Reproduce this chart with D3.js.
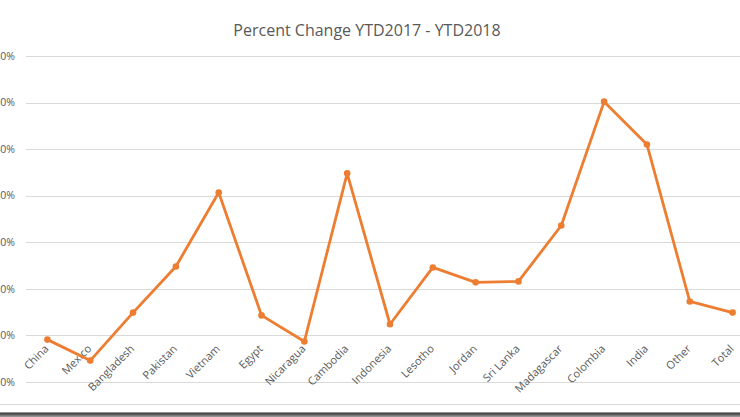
<!DOCTYPE html>
<html>
<head>
<meta charset="utf-8">
<script src="https://cdn.jsdelivr.net/npm/d3@7"></script>
<style>
  html, body { margin: 0; padding: 0; background: #fff; overflow: hidden; }
  svg { display: block; }
</style>
</head>
<body>
<script>
const categories = ["China","Mexico","Bangladesh","Pakistan","Vietnam","Egypt","Nicaragua","Cambodia","Indonesia","Lesotho","Jordan","Sri Lanka","Madagascar","Colombia","India","Other","Total"];
const pctChange = [-0.9, -5.4, 4.9, 14.8, 30.7, 4.3, -1.3, 34.8, 2.4, 14.6, 11.4, 11.6, 23.6, 50.2, 41.0, 7.3, 4.9];
const yTicks = [-10, 0, 10, 20, 30, 40, 50, 60];
const title = "Percent Change YTD2017 - YTD2018";

const W = 740, H = 417;
const margin = { left: 26, top: 56, plotW: 728, plotH: 326 };
const svg = d3.select("body").append("svg").attr("width", W).attr("height", H);

const x = d3.scaleBand().domain(categories).range([margin.left, margin.left + margin.plotW]).padding(0);
const y = d3.scaleLinear().domain([d3.min(yTicks), d3.max(yTicks)]).range([margin.top + margin.plotH, margin.top]);

const textColor = "#595959";
const font = "'Open Sans', 'Liberation Sans', sans-serif";

// gridlines
svg.append("g").selectAll("line").data(yTicks).join("line")
  .attr("x1", margin.left).attr("x2", margin.left + margin.plotW)
  .attr("y1", d => Math.round(y(d)) + 0.5).attr("y2", d => Math.round(y(d)) + 0.5)
  .attr("stroke", "#d9d9d9").attr("stroke-width", 1);

// y labels
svg.append("g").selectAll("text").data(yTicks).join("text")
  .attr("x", 15).attr("y", d => y(d)).attr("dy", "0.35em")
  .attr("text-anchor", "end").attr("fill", textColor)
  .attr("font-family", font).attr("font-size", 10.5)
  .text(d => d + "%");

// x labels (rotated)
svg.append("g").selectAll("text").data(categories).join("text")
  .attr("transform", d => `translate(${x(d) + x.bandwidth() / 2 + 2},${y(0) + 14}) rotate(-45)`)
  .attr("text-anchor", "end").attr("fill", textColor)
  .attr("font-family", font).attr("font-size", 11)
  .text(d => d);

// line
const pts = categories.map((c, i) => [x(c) + x.bandwidth() / 2, y(pctChange[i])]);
svg.append("path").attr("d", d3.line()(pts))
  .attr("fill", "none").attr("stroke", "#ED7D31").attr("stroke-width", 2.8)
  .attr("stroke-linejoin", "round");
svg.append("g").selectAll("circle").data(pts).join("circle")
  .attr("cx", d => d[0]).attr("cy", d => d[1]).attr("r", 3.3)
  .attr("fill", "#ED7D31");

// title
svg.append("text").attr("x", 367).attr("y", 36)
  .attr("text-anchor", "middle").attr("fill", textColor)
  .attr("font-family", font).attr("font-size", 16)
  .text(title);

// chart border & frame shadow at bottom
svg.append("line").attr("x1", 0).attr("x2", W).attr("y1", 404.5).attr("y2", 404.5)
  .attr("stroke", "#d9d9d9").attr("stroke-width", 1);
const grad = svg.append("defs").append("linearGradient").attr("id", "shadow")
  .attr("x1", 0).attr("y1", 0).attr("x2", 0).attr("y2", 1);
grad.append("stop").attr("offset", "0%").attr("stop-color", "#2a2a2a");
grad.append("stop").attr("offset", "100%").attr("stop-color", "#a0a0a0");
svg.append("rect").attr("x", 0).attr("y", 412.5).attr("width", W).attr("height", 4.5)
  .attr("fill", "url(#shadow)");
</script>
</body>
</html>
